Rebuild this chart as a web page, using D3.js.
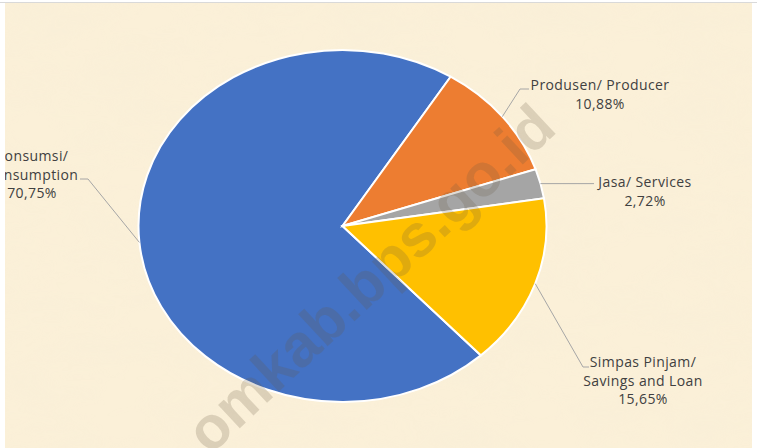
<!DOCTYPE html>
<html>
<head>
<meta charset="utf-8">
<script src="https://cdn.jsdelivr.net/npm/d3@7"></script>
<style>
  body { margin: 0; background: #fff; }
  svg { display: block; }
</style>
</head>
<body>
<div id="chart"></div>
<script>
// data
const categories = ["Konsumsi/ Consumption", "Produsen/ Producer", "Jasa/ Services", "Simpas Pinjam/ Savings and Loan"];
const labelLines = [["Konsumsi/", "Consumption"], ["Produsen/ Producer"], ["Jasa/ Services"], ["Simpas Pinjam/", "Savings and Loan"]];
const shares = [70.75, 10.88, 2.72, 15.65];
const colors = ["#4472C4", "#ED7D31", "#A5A5A5", "#FFC000"];

const width = 757, height = 448;
const cx = 342.5, cy = 226, rx = 204, ry = 176;

const svg = d3.select("#chart").append("svg")
    .attr("width", width)
    .attr("height", height);

const defs = svg.append("defs");
const filt = defs.append("filter").attr("id", "paper").attr("x", 0).attr("y", 0).attr("width", "100%").attr("height", "100%");
filt.append("feTurbulence").attr("type", "fractalNoise").attr("baseFrequency", "0.012 0.03").attr("numOctaves", 3).attr("seed", 4).attr("result", "n");
filt.append("feColorMatrix").attr("in", "n").attr("type", "matrix")
    .attr("values", "0 0 0 0 0.93  0 0 0 0 0.85  0 0 0 0 0.68  0 0 0 -1.1 0.75");
defs.append("clipPath").attr("id", "area")
    .append("rect").attr("x", 5).attr("y", 3).attr("width", 747).attr("height", 445);

// background
svg.append("rect").attr("x", 5).attr("y", 3).attr("width", 747).attr("height", 445).attr("fill", "#fbf0d8");
svg.append("rect").attr("x", 5).attr("y", 3).attr("width", 747).attr("height", 445).attr("filter", "url(#paper)").attr("opacity", 0.6);
svg.append("line").attr("x1", 0).attr("x2", 757).attr("y1", 2.5).attr("y2", 2.5).attr("stroke", "#d9d9d9").attr("stroke-width", 1);

const plot = svg.append("g").attr("clip-path", "url(#area)");

// pie
const startDeg = 137.3;
const pie = d3.pie().sort(null)
    .startAngle(startDeg * Math.PI / 180)
    .endAngle(startDeg * Math.PI / 180 + 2 * Math.PI)
    .value(d => d);
const arcs = pie(shares);
const arc = d3.arc().innerRadius(0).outerRadius(rx);

const g = plot.append("g").attr("transform", `translate(${cx},${cy}) scale(1,${ry / rx})`);
g.selectAll("path")
    .data(arcs)
    .enter()
    .append("path")
    .attr("d", arc)
    .attr("fill", (d, i) => colors[i])
    .attr("stroke", "#fff")
    .attr("stroke-width", 2)
    .attr("vector-effect", "non-scaling-stroke");

// point on the ellipse edge at a given angle
function edge(a) {
    return [cx + rx * Math.sin(a), cy - ry * Math.cos(a)];
}

// label layout: text centre x, first baseline y, leader elbow and end
const layout = [
    { tx: 32, ty: 161, elbow: [88, 179], end: [80, 179] },
    { tx: 600, ty: 90, elbow: [520, 89], end: [529, 89] },
    { tx: 645, ty: 187, elbow: null, end: [594, 186] },
    { tx: 643, ty: 367, elbow: [583, 367], end: [589, 367] }
];

const fmt = d3.format(".2f");
const lineH = 18.5;

arcs.forEach((d, i) => {
    const L = layout[i];
    const a = (d.startAngle + d.endAngle) / 2;
    const p = edge(a);
    const pts = L.elbow ? [p, L.elbow, L.end] : [p, [L.end[0], p[1]]];
    plot.append("path")
        .attr("d", d3.line()(pts))
        .attr("fill", "none")
        .attr("stroke", "#a6a6a6")
        .attr("stroke-width", 1);

    const lines = labelLines[i].concat([fmt(shares[i]).replace(".", ",") + "%"]);
    const t = plot.append("text")
        .attr("text-anchor", "middle")
        .attr("font-family", "'Open Sans', Lato, sans-serif")
        .attr("font-size", 14)
        .attr("letter-spacing", 0.4)
        .attr("fill", "#404040");
    lines.forEach((s, k) => {
        t.append("tspan").attr("x", L.tx).attr("y", L.ty + k * lineH).text(s);
    });
});

// watermark
plot.append("text")
    .attr("transform", "translate(210,456) rotate(-43)")
    .attr("font-family", "'Liberation Sans', Arial, sans-serif")
    .attr("font-weight", "bold")
    .attr("font-size", 60)
    .attr("fill", "rgb(105,90,65)")
    .attr("fill-opacity", 0.21)
    .text("omkab.bps.go.id");
</script>
</body>
</html>
